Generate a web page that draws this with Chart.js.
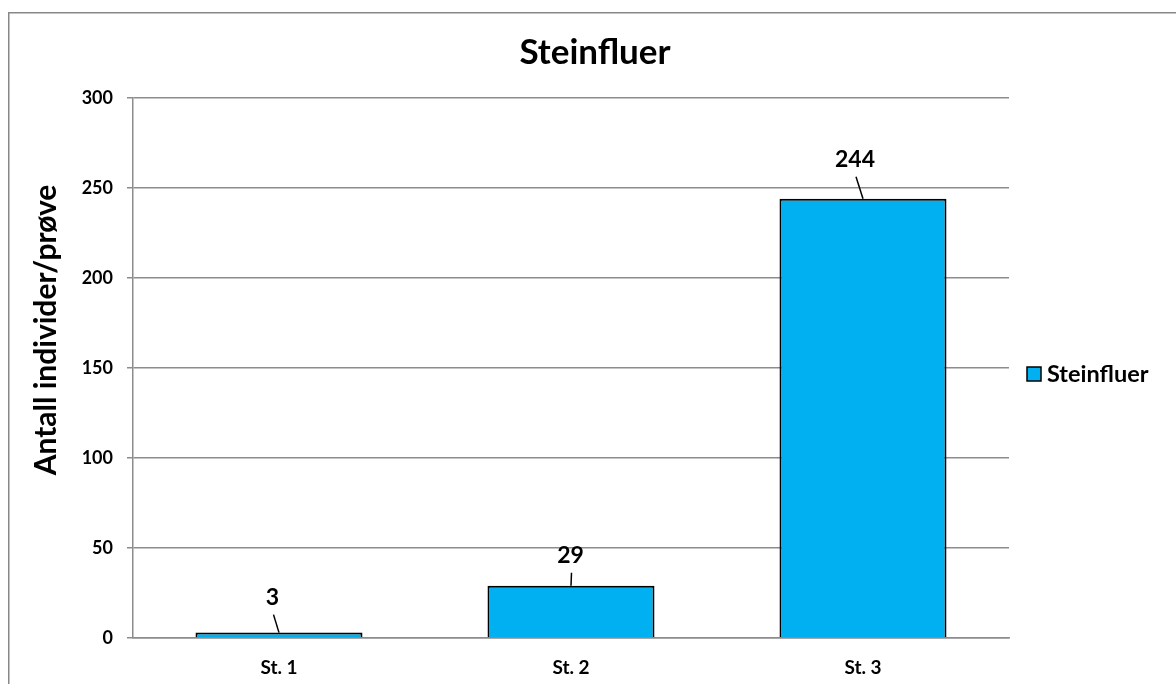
<!DOCTYPE html>
<html>
<head>
<meta charset="utf-8">
<title>Steinfluer</title>
<script src="https://cdn.jsdelivr.net/npm/chart.js@4.4.1/dist/chart.umd.min.js"></script>
<style>
  html, body { margin: 0; padding: 0; background: #fff; }
  #wrap { width: 1176px; height: 684px; }
</style>
</head>
<body>
<div id="wrap"><canvas id="myChart" width="1176" height="684"></canvas></div>
<script>
// stations and counts
const stations = ["St. 1", "St. 2", "St. 3"];
const counts = [3, 29, 244];
const seriesName = "Steinfluer";
const yTicks = [0, 50, 100, 150, 200, 250, 300];

const FONT = "Lato, 'Open Sans', sans-serif";
const BAR_BLUE = "#00b0f0";
const GRID = "#8c8c8c";

// outer frame, title, y title and legend drawn around the plot
const framePlugin = {
  id: "frame",
  beforeDraw(chart) {
    const ctx = chart.ctx;
    ctx.save();
    ctx.fillStyle = "#fff";
    ctx.fillRect(0, 0, chart.width, chart.height);
    ctx.strokeStyle = "#888";
    ctx.lineWidth = 1.5;
    ctx.strokeRect(8.75, 12.75, chart.width + 20, chart.height + 20);
    ctx.restore();
  },
  afterDraw(chart) {
    const ctx = chart.ctx;
    ctx.save();
    ctx.fillStyle = "#000";

    // title
    ctx.font = "bold 35px " + FONT;
    ctx.textAlign = "center";
    ctx.textBaseline = "middle";
    ctx.fillText("Steinfluer", 595, 53);

    // y axis title
    ctx.save();
    ctx.translate(46, 330);
    ctx.rotate(-Math.PI / 2);
    ctx.font = "bold 30px " + FONT;
    ctx.fillText("Antall individer/prøve", 0, 0);
    ctx.restore();

    // legend
    ctx.fillStyle = BAR_BLUE;
    ctx.fillRect(1027, 367, 14, 14);
    ctx.strokeStyle = "#000";
    ctx.lineWidth = 1.5;
    ctx.strokeRect(1027, 367, 14, 14);
    ctx.fillStyle = "#000";
    ctx.font = "bold 23.5px " + FONT;
    ctx.textAlign = "left";
    ctx.fillText(seriesName, 1047, 374);
    ctx.restore();
  }
};

// value labels with short leader lines to the bar tops
const valueLabels = {
  id: "valueLabels",
  afterDatasetsDraw(chart, args, opts) {
    const ctx = chart.ctx;
    const meta = chart.getDatasetMeta(0);
    ctx.save();
    ctx.font = "bold 23px " + FONT;
    ctx.textAlign = "center";
    ctx.textBaseline = "middle";
    meta.data.forEach((bar, i) => {
      const off = opts.offsets[i];
      const lx = bar.x + off[0];
      const ly = bar.y + off[1];
      ctx.fillStyle = "#000";
      ctx.fillText(String(counts[i]), lx, ly);
      ctx.strokeStyle = "#000";
      ctx.lineWidth = 1.5;
      ctx.beginPath();
      ctx.moveTo(lx + 1, ly + 17);
      ctx.lineTo(bar.x, bar.y);
      ctx.stroke();
    });
    ctx.restore();
  }
};

const ctx = document.getElementById("myChart");

new Chart(ctx, {
  type: "bar",
  data: {
    labels: stations,
    datasets: [{
      label: seriesName,
      data: counts,
      backgroundColor: BAR_BLUE,
      borderColor: "#000",
      borderWidth: 2,
      borderSkipped: "start",
      barPercentage: 1,
      categoryPercentage: 0.572
    }]
  },
  options: {
    responsive: false,
    animation: false,
    layout: { padding: { top: 98, right: 167, bottom: 0, left: 0 } },
    plugins: {
      legend: { display: false },
      title: { display: false },
      tooltip: { enabled: false },
      valueLabels: { offsets: [[-6.5, -35], [-0.5, -30], [-8, -39]] }
    },
    scales: {
      x: {
        grid: { display: false },
        border: { display: true, color: GRID, width: 1.5 },
        ticks: {
          color: "#000",
          font: { family: FONT, size: 19, weight: "bold" },
          padding: 10,
          maxRotation: 0
        },
        afterFit(scale) { scale.height = 46; }
      },
      y: {
        min: 0,
        max: 300,
        afterBuildTicks(scale) {
          scale.ticks = yTicks.map(v => ({ value: v }));
        },
        grid: { color: GRID, lineWidth: 1.5, tickLength: 6, drawTicks: true },
        border: { display: true, color: GRID, width: 1.5 },
        ticks: {
          color: "#000",
          font: { family: FONT, size: 18, weight: "bold" },
          padding: 14
        },
        afterFit(scale) { scale.width = 133; }
      }
    }
  },
  plugins: [framePlugin, valueLabels]
});
</script>
</body>
</html>
